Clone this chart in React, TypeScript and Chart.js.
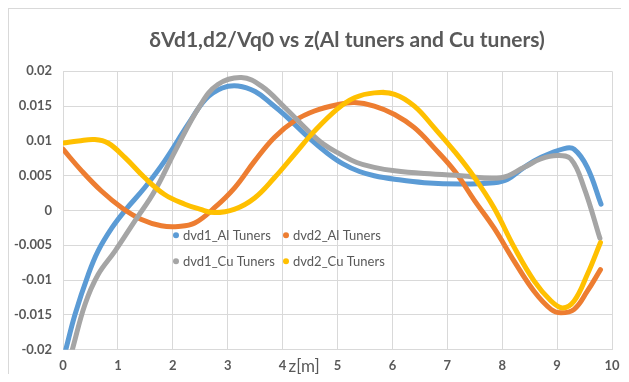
import { useEffect, useRef } from "react";
import { Chart, registerables } from "chart.js";

Chart.register(...registerables);

const titleText = "δVd1,d2/Vq0 vs z(Al tuners and Cu tuners)";
const xAxisTitle = "z[m]";
const seriesLabels = ["dvd1_Al Tuners", "dvd2_Al Tuners", "dvd1_Cu Tuners", "dvd2_Cu Tuners"];
const seriesColors = ["#5B9BD5", "#ED7D31", "#A5A5A5", "#FFC000"];

const zD1Al = [0.05, 0.22, 0.46, 0.64, 0.89, 1.13, 1.49, 1.85, 2.28, 2.6, 2.9, 3.19, 3.5, 3.8, 4.04, 4.47, 4.82, 5.1, 5.4, 5.67, 6.04, 6.58, 7.25, 7.85, 8.1, 8.4, 8.7, 9.13, 9.31, 9.55, 9.8];
const dvd1Al = [-0.02, -0.0149, -0.0092, -0.0058, -0.0025, 0.0, 0.0033, 0.0071, 0.0124, 0.016, 0.0176, 0.0179, 0.0171, 0.0153, 0.0137, 0.0105, 0.0082, 0.0067, 0.0056, 0.005, 0.0045, 0.004, 0.0038, 0.004, 0.0045, 0.0062, 0.0076, 0.0089, 0.0088, 0.0062, 0.0009];

const zD2Al = [0, 0.34, 0.7, 1.07, 1.43, 1.79, 2.1, 2.4, 2.76, 3.13, 3.49, 3.85, 4.22, 4.58, 5.0, 5.31, 5.67, 6.04, 6.4, 6.76, 7.13, 7.49, 7.85, 8.22, 8.58, 8.89, 9.07, 9.31, 9.55, 9.79];
const dvd2Al = [0.0088, 0.0057, 0.0028, 0.0004, -0.0013, -0.0022, -0.0023, -0.0018, 0.0004, 0.0033, 0.0071, 0.0105, 0.0129, 0.0143, 0.0152, 0.0155, 0.015, 0.0138, 0.0119, 0.009, 0.0057, 0.0015, -0.0025, -0.0073, -0.0116, -0.0142, -0.0147, -0.0142, -0.0116, -0.0085];

const zD1Cu = [0.17, 0.4, 0.64, 0.95, 1.31, 1.67, 2.04, 2.49, 2.82, 3.25, 3.61, 4.04, 4.46, 4.75, 5.05, 5.35, 5.67, 6.04, 6.58, 7.25, 7.98, 8.4, 8.7, 9.0, 9.25, 9.49, 9.78];
const dvd1Cu = [-0.02, -0.0135, -0.0092, -0.0058, -0.0015, 0.0028, 0.0085, 0.015, 0.0181, 0.0191, 0.0179, 0.0148, 0.0115, 0.0095, 0.0081, 0.0069, 0.0062, 0.0057, 0.0053, 0.005, 0.0047, 0.0062, 0.0074, 0.0079, 0.0074, 0.0033, -0.004];

const zD2Cu = [0, 0.28, 0.58, 0.82, 1.13, 1.49, 1.85, 2.22, 2.49, 2.76, 3.13, 3.49, 3.85, 4.22, 4.58, 5.0, 5.31, 5.67, 6.04, 6.4, 6.76, 7.13, 7.49, 7.85, 8.22, 8.58, 8.89, 9.1, 9.31, 9.55, 9.79];
const dvd2Cu = [0.0097, 0.01, 0.0102, 0.0097, 0.0076, 0.0047, 0.0023, 0.0009, 0.0002, -0.0003, 0.0002, 0.0018, 0.0047, 0.0081, 0.0114, 0.0146, 0.0162, 0.0169, 0.0167, 0.015, 0.0119, 0.0085, 0.0048, 0.0004, -0.0053, -0.0101, -0.013, -0.014, -0.013, -0.0092, -0.0046];

const seriesZ = [zD1Al, zD2Al, zD1Cu, zD2Cu];
const seriesV = [dvd1Al, dvd2Al, dvd1Cu, dvd2Cu];

const FONT = "Lato, 'Open Sans', sans-serif";
const TEXT = "#595959";
const GRID = "#D9D9D9";

export default function App() {
  const ref = useRef<HTMLCanvasElement>(null);

  useEffect(() => {
    if (!ref.current) return;

    const legendPlugin = {
      id: "insideLegend",
      afterDraw(chart: any) {
        const { ctx, chartArea } = chart;
        ctx.save();
        ctx.font = `13px ${FONT}`;
        ctx.textBaseline = "middle";
        ctx.textAlign = "left";
        const cols = [113, 223];
        const rows = [164, 190];
        seriesLabels.forEach((lab, i) => {
          const cx = chartArea.left + cols[i % 2];
          const cy = chartArea.top + rows[Math.floor(i / 2)];
          ctx.beginPath();
          ctx.arc(cx, cy, 3, 0, Math.PI * 2);
          ctx.fillStyle = seriesColors[i];
          ctx.fill();
          ctx.fillStyle = TEXT;
          ctx.fillText(lab, cx + 7, cy + 0.5);
        });
        ctx.restore();
      },
    };

    const textPlugin = {
      id: "titles",
      afterDraw(chart: any) {
        const { ctx, chartArea, scales } = chart;
        ctx.save();
        ctx.fillStyle = TEXT;
        ctx.textBaseline = "middle";
        ctx.textAlign = "center";
        ctx.font = `bold 21px ${FONT}`;
        ctx.fillText(titleText, 338, 31);
        ctx.textAlign = "left";
        ctx.font = `17px ${FONT}`;
        ctx.fillText(xAxisTitle, scales.x.getPixelForValue(4) + 6, chartArea.bottom + 16.5);
        ctx.restore();
      },
    };

    const chart = new Chart(ref.current, {
      type: "line",
      data: {
        datasets: seriesLabels.map((label, i) => ({
          label,
          data: seriesZ[i].map((z, j) => ({ x: z, y: seriesV[i][j] })),
          borderColor: seriesColors[i],
          backgroundColor: seriesColors[i],
          borderWidth: 5,
          borderCapStyle: "round" as const,
          borderJoinStyle: "round" as const,
          pointRadius: 0,
          pointHoverRadius: 0,
          tension: 0.4,
          fill: false,
          order: 4 - i,
        })),
      },
      options: {
        responsive: false,
        animation: false,
        layout: { padding: { left: 0, right: 9, top: 62.3, bottom: 0 } },
        plugins: {
          legend: { display: false },
          tooltip: { enabled: false },
          title: { display: false },
        },
        scales: {
          x: {
            type: "linear",
            min: 0,
            max: 10,
            border: { display: true, color: GRID },
            grid: { color: GRID, drawTicks: false },
            ticks: {
              stepSize: 1,
              color: TEXT,
              padding: 8.5,
              font: { family: FONT, size: 13, weight: "bold" },
            },
            afterFit(scale: any) {
              scale.height = 24.3;
              scale.paddingLeft = 0;
              scale.paddingRight = 0;
            },
          },
          y: {
            type: "linear",
            min: -0.02,
            max: 0.02,
            border: { display: false },
            grid: { color: GRID, drawTicks: false },
            ticks: {
              stepSize: 0.005,
              color: TEXT,
              padding: 11,
              font: { family: FONT, size: 13, weight: "bold" },
              callback: (v: any) => {
                const n = parseFloat(Number(v).toFixed(3));
                return n === 0 ? "0" : String(n);
              },
            },
            afterFit(scale: any) {
              scale.width = 54;
              scale.paddingTop = 0;
              scale.paddingBottom = 0;
            },
          },
        },
      },
      plugins: [legendPlugin, textPlugin],
    });

    return () => chart.destroy();
  }, []);

  return (
    <div
      style={{
        width: 613,
        height: 366,
        boxSizing: "border-box",
        borderTop: "1px solid #D9D9D9",
        borderLeft: "1px solid #D9D9D9",
        overflow: "hidden",
        background: "#fff",
      }}
    >
      <canvas ref={ref} width={612} height={365} style={{ display: "block", width: 612, height: 365 }} />
    </div>
  );
}
